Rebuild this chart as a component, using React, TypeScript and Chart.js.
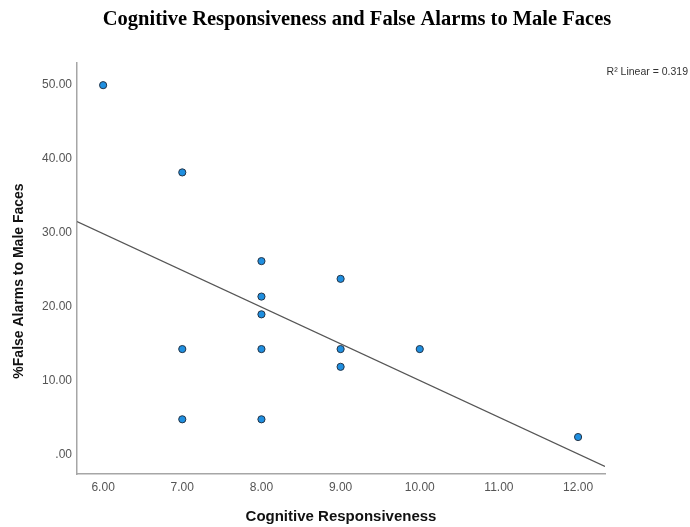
import React, { useEffect, useRef } from "react";
import { Chart, registerables } from "chart.js";

Chart.register(...registerables);

const titleText = "Cognitive Responsiveness and False Alarms to Male Faces";
const xTitle = "Cognitive Responsiveness";
const yTitle = "%False Alarms to Male Faces";
const r2Label = "R² Linear = 0.319";

const xValues = [6, 7, 7, 7, 8, 8, 8, 8, 8, 9, 9, 9, 10, 12];
const yValues = [50, 38.2, 14.3, 4.8, 26.2, 21.4, 19.0, 14.3, 4.8, 23.8, 14.3, 11.9, 14.3, 2.4];
const xTicks = [6, 7, 8, 9, 10, 11, 12];
const yTicks = [0, 10, 20, 30, 40, 50];
const xRange = [5.67, 12.34];
const yRange = [-2.6, 53];

function fitLine(xs: number[], ys: number[]) {
  const n = xs.length;
  const mx = xs.reduce((a, b) => a + b, 0) / n;
  const my = ys.reduce((a, b) => a + b, 0) / n;
  let sxy = 0;
  let sxx = 0;
  for (let i = 0; i < n; i++) {
    sxy += (xs[i] - mx) * (ys[i] - my);
    sxx += (xs[i] - mx) * (xs[i] - mx);
  }
  const slope = sxy / sxx;
  return (x: number) => my + slope * (x - mx);
}

const fmt = (v: number) => (v === 0 ? ".00" : v.toFixed(2));

export default function App() {
  const ref = useRef<HTMLCanvasElement | null>(null);

  useEffect(() => {
    if (!ref.current) return;
    const f = fitLine(xValues, yValues);
    const textPlugin = {
      id: "texts",
      afterDraw(chart: any) {
        const ctx = chart.ctx;
        const area = chart.chartArea;
        ctx.save();
        ctx.fillStyle = "#000";
        ctx.textAlign = "center";
        ctx.textBaseline = "middle";
        ctx.font = "bold 20.5px 'Liberation Serif', 'Times New Roman', serif";
        ctx.fillText(titleText, 357, 20);

        ctx.fillStyle = "#111";
        ctx.font = "bold 15px 'Liberation Sans', Arial, sans-serif";
        ctx.fillText(xTitle, (area.left + area.right) / 2, 517);

        ctx.font = "bold 14px 'Liberation Sans', Arial, sans-serif";
        ctx.save();
        ctx.translate(19, 281);
        ctx.rotate(-Math.PI / 2);
        ctx.fillText(yTitle, 0, 0);
        ctx.restore();

        ctx.fillStyle = "#333";
        ctx.textAlign = "right";
        ctx.font = "10.5px 'Liberation Sans', Arial, sans-serif";
        ctx.fillText(r2Label, 688, 72);
        ctx.restore();
      },
    };

    const chart = new Chart(ref.current, {
      type: "scatter",
      data: {
        datasets: [
          {
            type: "line",
            data: [
              { x: xRange[0], y: f(xRange[0]) },
              { x: xRange[1], y: f(xRange[1]) },
            ],
            borderColor: "#555555",
            borderWidth: 1.3,
            pointRadius: 0,
            fill: false,
          } as any,
          {
            data: xValues.map((x, i) => ({ x, y: yValues[i] })),
            backgroundColor: "#1f8fe0",
            borderColor: "#243447",
            borderWidth: 1,
            pointRadius: 3.6,
          },
        ],
      },
      options: {
        animation: false,
        responsive: false,
        maintainAspectRatio: false,
        layout: { padding: { top: 63, right: 85, left: 0, bottom: 0 } },
        plugins: { legend: { display: false }, tooltip: { enabled: false }, title: { display: false } },
        scales: {
          x: {
            type: "linear",
            min: xRange[0],
            max: xRange[1],
            afterBuildTicks: (s: any) => {
              s.ticks = xTicks.map((v) => ({ value: v }));
            },
            afterFit: (s: any) => {
              s.height = 53;
            },
            grid: { display: true, color: "rgba(0,0,0,0)", drawTicks: false },
            border: { display: true, color: "#a6a6a6", width: 1.5 },
            ticks: {
              padding: 6,
              color: "#555",
              font: { family: "'Liberation Sans', Arial, sans-serif", size: 12 },
              callback: (v: any) => fmt(Number(v)),
              maxRotation: 0,
              autoSkip: false,
            },
          },
          y: {
            type: "linear",
            min: yRange[0],
            max: yRange[1],
            afterBuildTicks: (s: any) => {
              s.ticks = yTicks.map((v) => ({ value: v }));
            },
            afterFit: (s: any) => {
              s.width = 77;
            },
            grid: { display: true, color: "rgba(0,0,0,0)", drawTicks: false },
            border: { display: true, color: "#a6a6a6", width: 1.5 },
            ticks: {
              padding: 5,
              color: "#555",
              font: { family: "'Liberation Sans', Arial, sans-serif", size: 12 },
              callback: (v: any) => fmt(Number(v)),
              autoSkip: false,
            },
          },
        },
      },
      plugins: [textPlugin],
    });
    return () => chart.destroy();
  }, []);

  return (
    <div style={{ position: "fixed", left: 0, top: 0, width: 690, height: 527, background: "#fff" }}>
      <canvas ref={ref} width={690} height={527} style={{ width: 690, height: 527, display: "block" }} />
    </div>
  );
}
